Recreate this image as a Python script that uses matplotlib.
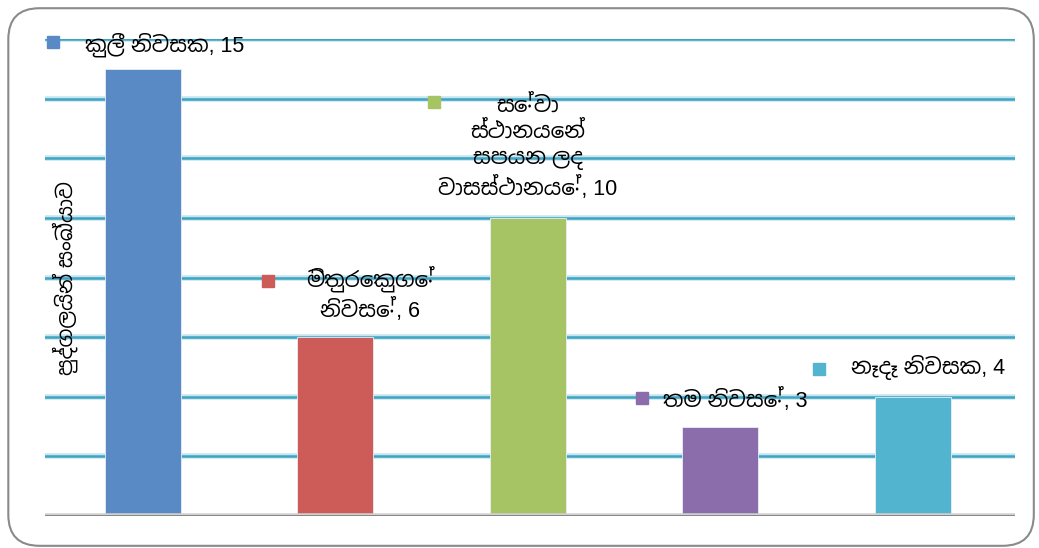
import matplotlib
matplotlib.use('Agg')
import matplotlib.pyplot as plt
from matplotlib import font_manager
from matplotlib.ft2font import FT2Font
from matplotlib.patches import FancyBboxPatch

categories = ['කුලී නිවසක', 'මිතුරෙකුගේ\nනිවසේ', 'සේවා\nස්ථානයෙන්\nසපයන ලද\nවාසස්ථානයේ',
              'තම නිවසේ', 'නෑදෑ නිවසක']
values = [15, 6, 10, 3, 4]
colors = ['#5A8AC6', '#CD5B57', '#A6C463', '#8A6DAA', '#52B4CF']
ylabel = 'පුද්ගලයින් සංඛ්යාව'

# look for an installed font that covers Sinhala, preferring a sans one named for it
candidates = []
for f in font_manager.fontManager.ttflist:
    try:
        if 0x0D9A in FT2Font(f.fname).get_charmap():
            candidates.append(f.name)
    except Exception:
        pass
candidates.sort(key=lambda n: ('Sinhala' not in n, 'Serif' in n))
sinhala = candidates[0] if candidates else None

# Latin digits and punctuation from Liberation Sans, Sinhala from the fallback
families = ['Liberation Sans'] + ([sinhala] if sinhala else []) + ['DejaVu Sans']
plt.rcParams['font.family'] = families

fig = plt.figure(figsize=(10.39, 5.48), dpi=100)
ax = fig.add_axes([0.0433, 0.0584, 0.9336, 0.8704])

x = range(len(values))
ax.bar(x, values, width=0.395, color=colors, edgecolor='#e8eef5', linewidth=0.6, zorder=3)

for y in range(2, 17, 2):
    ax.axhline(y, color='#c6e6ef', lw=4, zorder=1)
    ax.axhline(y, color='#3fa3c2', lw=1.8, zorder=2)
ax.axhline(0, color='#d0d0d0', lw=4, zorder=4)
ax.axhline(0, color='#808080', lw=2, zorder=5)

ax.set_xlim(-0.509, 4.53)
ax.set_ylim(0, 16)
ax.axis('off')

# data labels with legend keys: (marker x, marker y, text x, text y, ha)
pos = [
    (-0.465, 15.9, -0.30, 15.8, 'left'),
    (0.65, 7.89, 1.18, 7.45, 'center'),
    (1.51, 13.9, 2.0, 12.35, 'center'),
    (2.59, 3.96, 2.70, 3.89, 'left'),
    (3.51, 4.93, 3.68, 4.97, 'left'),
]
for (mx, my, tx, ty, ha), lab, v, c in zip(pos, categories, values, colors):
    ax.plot(mx, my, 's', ms=9, color=c, zorder=6, clip_on=False)
    ax.text(tx, ty, f'{lab}, {v}', ha=ha, va='center', fontsize=15.5,
            linespacing=1.3, color='black', zorder=6, multialignment='center')

fig.text(0.063, 0.493, ylabel, rotation=90, ha='center', va='center', fontsize=15)

border = FancyBboxPatch((0.008, 0.004), 0.987, 0.981, boxstyle='round,pad=0,rounding_size=0.03',
                        transform=fig.transFigure, fill=False, edgecolor='#8a8a8a', lw=1.5,
                        mutation_aspect=1039 / 548)
fig.patches.append(border)

fig.savefig('out.png', dpi=100)
